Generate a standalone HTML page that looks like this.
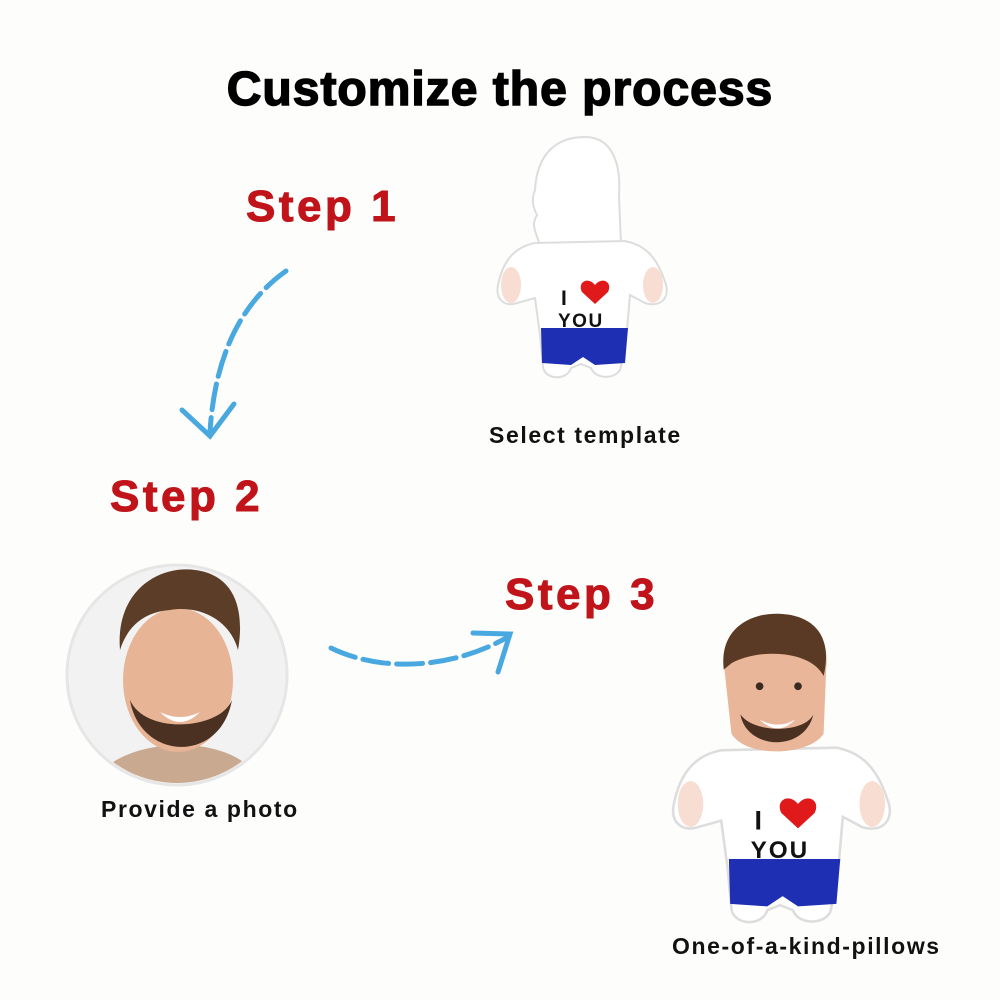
<!DOCTYPE html>
<html><head><meta charset="utf-8"><style>
html,body{margin:0;padding:0;background:#fdfdfb;}
.w{position:relative;width:1000px;height:1000px;overflow:hidden;font-family:"Liberation Sans",sans-serif;}
.t{position:absolute;left:0;width:1000px;text-align:center;top:62px;font-size:48px;font-weight:900;color:#000;letter-spacing:1px;-webkit-text-stroke:1.5px #000;}
.s{position:absolute;font-size:44px;font-weight:bold;color:#c0141a;letter-spacing:3.5px;-webkit-text-stroke:1px #c0141a;}
.l{position:absolute;font-size:23px;font-weight:bold;color:#111;letter-spacing:1.6px;}
</style></head><body><div class="w">
<div class="t">Customize the process</div>
<div class="s" style="left:246px;top:182px">Step 1</div>
<div class="s" style="left:110px;top:472px">Step 2</div>
<div class="s" style="left:505px;top:570px">Step 3</div>
<div class="l" style="left:489px;top:422px">Select template</div>
<div class="l" style="left:101px;top:796px">Provide a photo</div>
<div class="l" style="left:672px;top:933px">One-of-a-kind-pillows</div>
<svg width="1000" height="1000" style="position:absolute;left:0;top:0">
<defs>
<g id="pb">
<path d="M40,108 C20,112 8,125 3,150 C0,165 10,172 22,168 L40,163 L45,200 L48,232 C50,245 72,246 76,233 L86,229 L96,233 C101,246 125,244 126,231 L132,195 L135,160 L150,168 C166,173 176,162 170,147 C162,122 150,110 130,106 Z" fill="#fff" stroke="#ddd" stroke-width="2"/>
<ellipse cx="16" cy="150" rx="10" ry="18" fill="#f8ddd3"/>
<ellipse cx="158" cy="150" rx="10" ry="18" fill="#f8ddd3"/>
<path d="M46,193 L133,193 L130,228 L100,230 L88,222 L76,230 L47,228 Z" fill="#1e2fb4"/>
<text x="66" y="170" font-family="Liberation Sans" font-weight="900" font-size="21" fill="#111">I</text>
<path d="M100,150 C93,141 82,147 87,157 L100,169 L113,157 C118,147 107,141 100,150 Z" fill="#e0191b"/>
<text x="63" y="192" font-family="Liberation Sans" font-weight="900" font-size="19" letter-spacing="1.5" fill="#111">YOU</text>
</g>
</defs>
<g transform="translate(495,135)">
<path d="M45,110 C40,95 36,90 42,80 C38,72 36,65 40,55 C42,20 60,2 90,2 C118,2 126,30 124,60 L126,110 Z" fill="#fff" stroke="#ddd" stroke-width="2"/>
<use href="#pb"/>
</g>
<g transform="translate(670,612) scale(1.28)">
<use href="#pb"/>
<path d="M42,40 C40,15 60,0 88,2 C112,4 125,20 122,45 L120,95 C110,112 60,115 48,95 Z" fill="#e9b69a"/>
<path d="M42,45 C38,12 65,-2 92,2 C118,6 126,25 120,50 C110,30 70,28 48,40 Z" fill="#5a3a25"/>
<path d="M55,80 C60,108 105,110 112,80 C105,95 65,95 55,80 Z" fill="#4a3020"/>
<path d="M70,84 Q84,92 98,84 Q84,98 70,84Z" fill="#fff"/>
<circle cx="70" cy="58" r="3" fill="#3a2a20"/><circle cx="100" cy="58" r="3" fill="#3a2a20"/>
</g>
<circle cx="177" cy="675" r="110" fill="#f2f2f2" stroke="#e6e6e6" stroke-width="3"/>
<clipPath id="cc"><circle cx="177" cy="675" r="108"/></clipPath>
<g clip-path="url(#cc)">
<path d="M90,790 C100,760 140,745 180,745 C220,745 255,760 265,790 Z" fill="#c9a98f"/>
<ellipse cx="178" cy="680" rx="55" ry="72" fill="#e7b495"/>
<path d="M120,650 C115,590 160,565 195,570 C235,575 245,610 238,650 C230,620 200,605 170,610 C145,612 128,625 120,650Z" fill="#5b3d28"/>
<path d="M130,700 C140,760 220,765 232,700 C220,730 145,735 130,700Z" fill="#4a3122"/>
<path d="M160,712 Q180,722 200,712 Q180,732 160,712Z" fill="#fff"/>
</g>
<g fill="none" stroke="#4aa8e0" stroke-width="5" stroke-linecap="round">
<path d="M286,271 C245,300 215,350 210,432" stroke-dasharray="26 8"/>
<path d="M182,410 L210,436 L234,404"/>
<path d="M331,648 C380,672 450,670 508,637" stroke-dasharray="26 8"/>
<path d="M473,633 L510,634 L498,672"/>
</g>
</svg>
</div></body></html>
